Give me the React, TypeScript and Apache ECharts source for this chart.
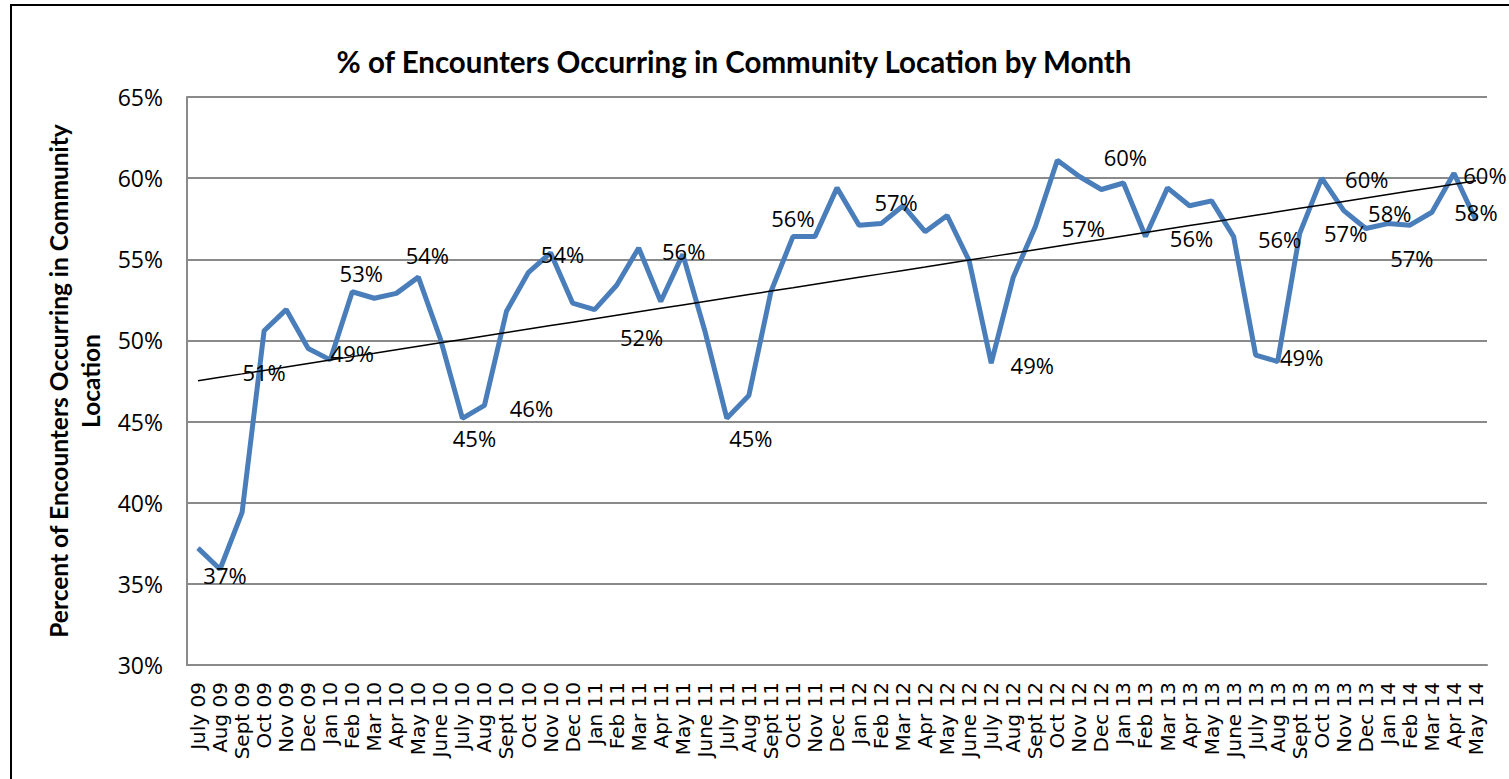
import React, { useEffect, useRef } from "react";
import * as echarts from "echarts";

const categories = [
  "July 09", "Aug 09", "Sept 09", "Oct 09", "Nov 09", "Dec 09",
  "Jan 10", "Feb 10", "Mar 10", "Apr 10", "May 10", "June 10", "July 10", "Aug 10", "Sept 10", "Oct 10", "Nov 10", "Dec 10",
  "Jan 11", "Feb 11", "Mar 11", "Apr 11", "May 11", "June 11", "July 11", "Aug 11", "Sept 11", "Oct 11", "Nov 11", "Dec 11",
  "Jan 12", "Feb 12", "Mar 12", "Apr 12", "May 12", "June 12", "July 12", "Aug 12", "Sept 12", "Oct 12", "Nov 12", "Dec 12",
  "Jan 13", "Feb 13", "Mar 13", "Apr 13", "May 13", "June 13", "July 13", "Aug 13", "Sept 13", "Oct 13", "Nov 13", "Dec 13",
  "Jan 14", "Feb 14", "Mar 14", "Apr 14", "May 14",
];

const communityPct = [
  37.2, 35.9, 39.4, 50.6, 51.9, 49.5,
  48.8, 53.0, 52.6, 52.9, 53.9, 50.1, 45.2, 46.0, 51.8, 54.2, 55.4, 52.3,
  51.9, 53.4, 55.7, 52.4, 55.3, 50.6, 45.2, 46.6, 53.0, 56.4, 56.4, 59.4,
  57.1, 57.2, 58.3, 56.7, 57.7, 54.9, 48.6, 53.9, 57.0, 61.1, 60.1, 59.3,
  59.7, 56.4, 59.4, 58.3, 58.6, 56.4, 49.1, 48.7, 56.6, 60.0, 58.0, 56.9,
  57.2, 57.1, 57.9, 60.3, 57.4,
];

const yTicks = { min: 30, max: 65, interval: 5 };

// which points carry a data label, and where the label sits relative to the point (style only)
const labelPlacement: [number, number, number][] = [
  [0, 27, 27], [3, 0, 41], [6, 22, -7], [7, 9, -19], [10, 9, -22], [12, 12, 20],
  [13, 47, 3], [15, 34, -18], [18, 47, 27], [20, 45, 3], [24, 24, 20], [27, 0, -19],
  [31, 15, -22], [36, 41, 2], [38, 48, 1], [40, 46, -20], [43, 46, 1], [47, 46, 2],
  [49, 24, -5], [50, 46, 0], [51, 45, 1], [52, 46, 2], [53, 46, 30], [56, 44, 0], [57, 31, 2],
];

function linearTrend(vals: number[]): number[] {
  const n = vals.length;
  let sx = 0, sy = 0, sxx = 0, sxy = 0;
  vals.forEach((v, i) => { sx += i; sy += v; sxx += i * i; sxy += i * v; });
  const b = (n * sxy - sx * sy) / (n * sxx - sx * sx);
  const a = (sy - b * sx) / n;
  return vals.map((_, i) => +(a + b * i).toFixed(3));
}

export default function App() {
  const ref = useRef<HTMLDivElement>(null);
  useEffect(() => {
    if (!ref.current) return;
    const chart = echarts.init(ref.current, null, { renderer: "svg" });
    const labelMap = new Map<number, [number, number]>();
    labelPlacement.forEach(([i, dx, dy]) => labelMap.set(i, [dx, dy]));
    const lineData = communityPct.map((v, i) => {
      const off = labelMap.get(i);
      if (!off) return { value: v };
      return { value: v, label: { show: true, position: "inside", offset: off } };
    });
    const option: any = {
      animation: false,
      backgroundColor: "#ffffff",
      title: {
        text: "% of Encounters Occurring in Community Location by Month",
        left: 729,
        top: 41,
        textAlign: "center",
        textStyle: { fontFamily: "Lato", fontWeight: "bold", fontSize: 29.5, color: "#000" },
      },
      graphic: [
        {
          type: "rect",
          silent: true,
          z: -10,
          shape: { x: 11, y: 5, width: 1700, height: 1000 },
          style: { fill: "none", stroke: "#000", lineWidth: 2 },
        },
      ],
      grid: { left: 187, right: 22, top: 97, bottom: 114, containLabel: false },
      xAxis: {
        type: "category",
        data: categories,
        boundaryGap: true,
        axisLine: { lineStyle: { color: "#8a8a8a", width: 2 } },
        axisTick: { show: false },
        axisLabel: {
          rotate: 90,
          interval: 0,
          margin: 17,
          fontFamily: "DejaVu Sans",
          fontSize: 20,
          color: "#000",
        },
      },
      yAxis: {
        type: "value",
        min: yTicks.min,
        max: yTicks.max,
        interval: yTicks.interval,
        name: "Percent of Encounters Occurring in Community\nLocation",
        nameLocation: "middle",
        nameRotate: 90,
        nameGap: 80,
        nameTextStyle: { fontFamily: "Lato", fontWeight: "bold", fontSize: 24.5, lineHeight: 32, color: "#000" },
        axisLine: { show: true, lineStyle: { color: "#8a8a8a", width: 2 } },
        axisTick: { show: false },
        splitLine: { lineStyle: { color: "#8a8a8a", width: 2 } },
        axisLabel: {
          formatter: "{value}%",
          margin: 24,
          fontFamily: "Open Sans",
          fontSize: 23,
          color: "#000",
        },
      },
      series: [
        {
          type: "line",
          data: lineData,
          symbol: "circle",
          symbolSize: 1,
          showSymbol: true,
          lineStyle: { color: "#4a7ebb", width: 5 },
          itemStyle: { color: "#4a7ebb" },
          label: {
            show: false,
            formatter: (p: any) => Math.round(p.value) + "%",
            fontFamily: "Open Sans",
            fontSize: 22,
            color: "#000",
          },
          z: 3,
        },
        {
          type: "line",
          data: linearTrend(communityPct),
          symbol: "none",
          lineStyle: { color: "#000", width: 1.5 },
          silent: true,
          z: 4,
        },
      ],
    };
    chart.setOption(option);
    return () => chart.dispose();
  }, []);
  return <div ref={ref} style={{ position: "fixed", left: 0, top: 0, width: 1509, height: 779 }} />;
}
